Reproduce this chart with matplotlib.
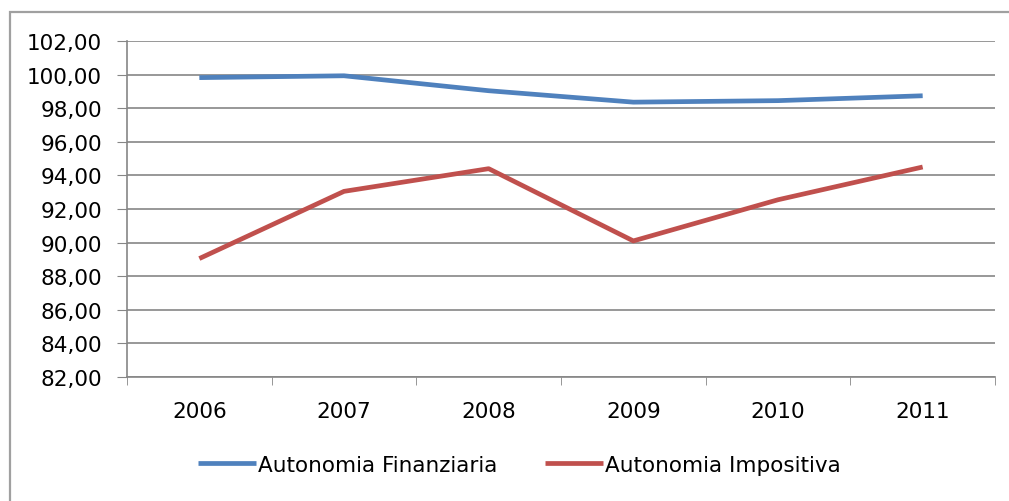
#!/bin/python3

"""
Line chart: Autonomia Finanziaria vs Autonomia Impositiva, 2006-2011.
"""

import matplotlib
matplotlib.use("Agg")
import matplotlib.pyplot as plt
from matplotlib.patches import Rectangle
from matplotlib.ticker import FuncFormatter, MultipleLocator

YEARS = ["2006", "2007", "2008", "2009", "2010", "2011"]
FINANZIARIA = [99.82, 99.93, 99.04, 98.36, 98.45, 98.74]
IMPOSITIVA = [89.05, 93.05, 94.40, 90.10, 92.55, 94.50]
LABEL_FIN = "Autonomia Finanziaria"
LABEL_IMP = "Autonomia Impositiva"

BLUE = "#4f81bd"
RED = "#c0504d"
GRID = "#868686"


def main() -> None:
    plt.rcParams["font.family"] = ["DejaVu Sans"]
    fig = plt.figure(figsize=(10.09, 5.02), dpi=100)
    ax = fig.add_axes([127 / 1009, 1 - 378 / 502, 868 / 1009, 336 / 502])

    # Outer chart border
    fig.patches.append(Rectangle((10 / 1009, -0.1), 1.2, 1.1 - 13 / 502,
                                 transform=fig.transFigure, fill=False,
                                 edgecolor="#a0a0a0", linewidth=1.6))

    xs = list(range(len(YEARS)))
    ax.plot(xs, FINANZIARIA, color=BLUE, linewidth=3.4, label=LABEL_FIN,
            solid_capstyle="butt")
    ax.plot(xs, IMPOSITIVA, color=RED, linewidth=3.4, label=LABEL_IMP,
            solid_capstyle="butt")

    ax.set_xlim(-0.5, len(YEARS) - 0.5)
    ax.set_ylim(82, 102)
    ax.yaxis.set_major_locator(MultipleLocator(2))
    ax.yaxis.set_major_formatter(FuncFormatter(lambda v, _: f"{v:.2f}".replace(".", ",")))
    ax.set_xticks(xs)
    ax.set_xticklabels(YEARS)
    ax.set_xticks([x - 0.5 for x in range(len(YEARS) + 1)], minor=True)
    ax.tick_params(axis="x", which="major", length=0, pad=17, labelsize=15.5)
    ax.tick_params(axis="x", which="minor", length=6, color=GRID, direction="out")
    ax.tick_params(axis="y", length=7, color=GRID, pad=11, labelsize=15.5)

    ax.grid(axis="y", color=GRID, linewidth=1.2)
    ax.set_axisbelow(True)
    for side in ("top", "right"):
        ax.spines[side].set_visible(False)
    for side in ("left", "bottom"):
        ax.spines[side].set_color(GRID)
        ax.spines[side].set_linewidth(1.2)

    fig.legend(loc="center", bbox_to_anchor=(0.515, 1 - 466 / 502), ncol=2,
               frameon=False, fontsize=15.5, handlelength=2.7, handletextpad=0.1,
               columnspacing=2.2)
    fig.savefig("out.png", dpi=100)


if __name__ == "__main__":
    main()
